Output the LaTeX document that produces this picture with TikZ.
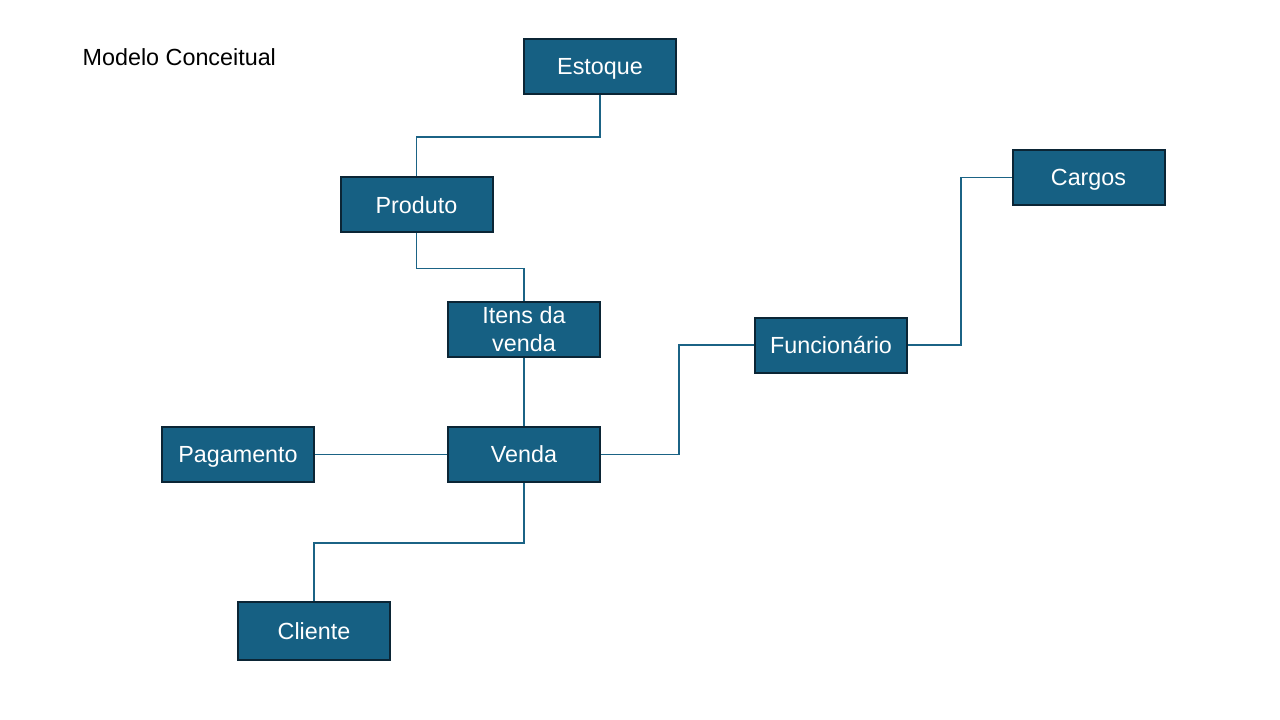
\documentclass[tikz,border=0pt]{standalone}
\usepackage{fontspec}
\setmainfont{Liberation Sans}
\usepackage{tikz}
\definecolor{boxfill}{HTML}{166083}
\definecolor{boxline}{HTML}{0B2535}
\definecolor{conline}{HTML}{1B6385}

\begin{document}
\begin{tikzpicture}[x=0.75pt,y=-0.75pt,ent/.style={draw=boxline,line width=1.5pt,fill=boxfill,text=white,font=\fontsize{17.5}{21}\selectfont,minimum width=114pt,minimum height=41.25pt,inner sep=0pt,align=center,text height=13pt,text depth=0.4pt},con/.style={draw=conline,line width=1.25pt}]
\useasboundingbox (0,0) rectangle (1280,720);
\node[anchor=west,font=\fontsize{17.5}{21}\selectfont] (tit) at (78,57) {Modelo Conceitual};
\node[ent] (est) at (600,66.5) {Estoque};
\node[ent] (prod) at (416.5,205) {Produto};
\node[ent,text height=,text depth=] (itens) at (524,329.5) {Itens da\\venda};
\node[ent] (venda) at (524,454.5) {Venda};
\node[ent] (pag) at (238,454.5) {Pagamento};
\node[ent,minimum height=43.5pt] (cli) at (314,631) {Cliente};
\node[ent] (func) at (831,345) {Funcionário};
\node[ent] (carg) at (1088.5,177.5) {Cargos};
\draw[con] (est.south) -- ++(0,42) -| (prod.north);
\draw[con] (prod.south) -- ++(0,35) -| (itens.north);
\draw[con] (itens) -- (venda);
\draw[con] (pag) -- (venda);
\draw[con] (venda.south) -- ++(0,60) -| (cli.north);
\draw[con] (venda.east) -- ++(78,0) |- (func.west);
\draw[con] (func.east) -- ++(53,0) |- (carg.west);
\end{tikzpicture}
\end{document}
